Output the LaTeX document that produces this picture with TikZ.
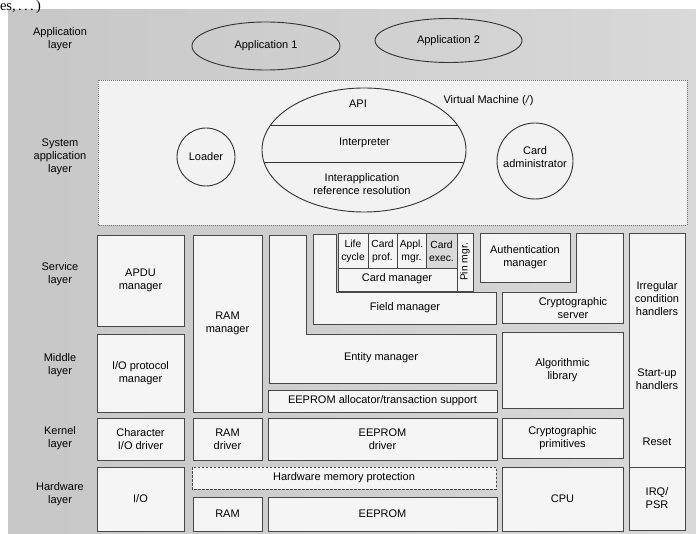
\documentclass[tikz,border=0pt]{standalone}
\usepackage{fontspec}
\setmainfont{Liberation Sans}
\newfontfamily\fragserif{Liberation Serif}
\usetikzlibrary{shapes.geometric}
\newcommand\mybx[6]{%
  \pgfmathsetmacro\bxcx{(#2+#4)/2}%
  \pgfmathsetmacro\bxcy{(#3+#5)/2}%
  \pgfmathsetmacro\bxw{#4-#2}%
  \pgfmathsetmacro\bxh{#5-#3}%
  \node[box, minimum width=\bxw pt, minimum height=\bxh pt] (#1) at (\bxcx,\bxcy) {#6};}
\begin{document}
\begin{tikzpicture}[x=1pt,y=-1pt,
  every node/.style={font=\fontsize{11}{13}\selectfont, align=center, inner sep=0pt, outer sep=0pt},
  box/.style={draw=black!72, line width=0.9pt, fill=white!96!black},
  lshape/.style={draw=black!72, line width=0.9pt, fill=white!96!black},
  oval/.style={draw=black!80, line width=0.9pt},
  small/.style={font=\fontsize{10.3}{12.5}\selectfont}]
\clip (0,0) rectangle (696,534);
% background
\shade[left color=gray!44, right color=gray!30] (8,10) rectangle (696,534);
% fragment at top
\node[font=\fragserif\fontsize{14.5}{14.5}\selectfont, anchor=base west] (frag) at (0,10.5) {es,\,.\,.\,.\,)};
% layer labels
\node (lapp) at (60,39) {Application\\layer};
\node (lsys) at (60,157) {System\\application\\layer};
\node (lserv) at (60,274) {Service\\layer};
\node (lmid) at (60,365) {Middle\\layer};
\node (lker) at (60,438) {Kernel\\layer};
\node (lhw) at (60,494) {Hardware\\layer};
% application layer
\node[oval, ellipse, minimum width=148pt, minimum height=48pt] (app1) at (266,46) {Application 1};
\node[oval, ellipse, minimum width=147pt, minimum height=44pt] (app2) at (448.5,40.5) {Application 2};
% system application layer
\draw[draw=black!55, line width=0.6pt, dash pattern=on 1pt off 1pt, fill=white!95!black] (98,80) rectangle (687,225);
\node[oval, circle, minimum size=58pt] (loader) at (206,157) {};
\node (loadert) at (206,157) {Loader};
\node[oval, circle, minimum size=76pt] (cardadm) at (535,161) {};
\node (cardadmt) at (535,157) {Card\\administrator};
\node[oval, ellipse, minimum width=204pt, minimum height=124pt] (vm) at (364,150) {};
\begin{scope}
  \clip (364,150) ellipse [x radius=102pt, y radius=62pt];
  \draw[black!80, line width=0.9pt] (250,125) -- (480,125);
  \draw[black!80, line width=0.9pt] (250,162) -- (480,162);
\end{scope}
\node (api) at (358,104) {API};
\node (interp) at (364.5,143) {Interpreter};
\node (interapp) at (362,184) {Interapplication\\reference resolution};
\node (vmlabel) at (488.5,101) {Virtual Machine (\textit{/})};
% column 1
\mybx{apdu}{97}{235}{184}{326}{APDU\\manager}
\mybx{iop}{97}{334}{184}{412}{I/O protocol\\manager}
\mybx{chario}{97}{418}{184}{460}{Character\\I/O driver}
\mybx{io}{97}{467}{184}{531}{I/O}
% column 2
\mybx{ramman}{193}{235}{262}{412}{RAM\\manager}
\mybx{ramdrv}{193}{418}{262}{460}{RAM\\driver}
\mybx{ram}{193}{497}{262}{531}{RAM}
% hardware memory protection
\draw[draw=black!72, line width=0.9pt, dash pattern=on 2.5pt off 1.5pt, fill=white!96!black] (192,467) rectangle (496,489);
\node (hmp) at (344,478) {Hardware memory protection};
% EEPROM column
\mybx{eeprom}{268}{497}{497}{531}{EEPROM}
\mybx{eedrv}{268}{418}{497}{460}{EEPROM\\driver}
\mybx{eealloc}{268}{390}{497}{412}{EEPROM allocator/transaction support}
% entity manager (L-shape)
\draw[lshape] (269,235) -- (306,235) -- (306,334) -- (496,334) -- (496,383) -- (269,383) -- cycle;
\node (entity) at (381,358) {Entity manager};
% field manager (L-shape)
\draw[lshape] (313,234) -- (336,234) -- (336,292) -- (496,292) -- (496,324) -- (313,324) -- cycle;
\node (field) at (405,308) {Field manager};
% card manager
\draw[box] (338,233) rectangle (457,291);
\draw[box, fill=gray!30] (426,233) rectangle (457,268);
\draw[black!72, line width=0.9pt] (338,268) -- (457,268);
\draw[black!72, line width=0.9pt] (368,233) -- (368,268);
\draw[black!72, line width=0.9pt] (397,233) -- (397,268);
\node[small] (life) at (353,251.5) {Life\\cycle};
\node[small] (cprof) at (382.5,251.5) {Card\\prof.};
\node[small] (amgr) at (411.5,251.5) {Appl.\\mgr.};
\node[small] (cexec) at (441.5,251.5) {Card\\exec.};
\node (cardman) at (397,279) {Card manager};
\draw[box] (457,233) rectangle (473,291);
\node[small, rotate=90] (pin) at (465,262) {Pin mgr.};
% authentication manager
\mybx{auth}{480}{233}{570}{282}{Authentication\\manager}
% cryptographic server (L-shape)
\draw[lshape] (502,292) -- (576,292) -- (576,233) -- (623,233) -- (623,323) -- (502,323) -- cycle;
\node (cserv) at (573,308) {Cryptographic\\server};
\mybx{alg}{502}{332}{623}{408}{Algorithmic\\library}
\mybx{cprim}{502}{418}{623}{458}{Cryptographic\\primitives}
\mybx{cpu}{502}{467}{623}{531}{CPU}
% right column
\draw[box] (629,233) rectangle (685,467);
\node (irreg) at (657,299) {Irregular\\condition\\handlers};
\node (startup) at (657,379) {Start-up\\handlers};
\node (reset) at (657,442) {Reset};
\mybx{irq}{629}{467}{685}{530}{IRQ/\\PSR}
\end{tikzpicture}
\end{document}
